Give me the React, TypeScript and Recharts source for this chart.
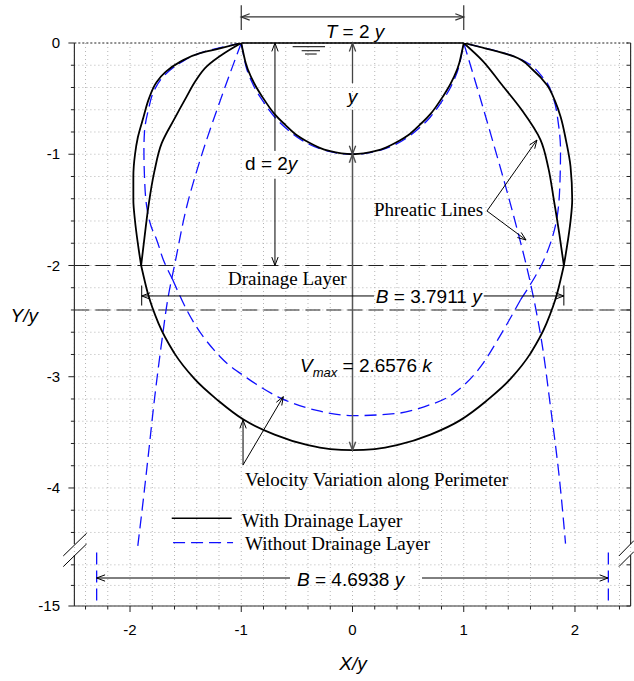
import React from "react";
import {
  CartesianGrid,
  ComposedChart,
  Line,
  ReferenceDot,
  ReferenceLine,
  XAxis,
  YAxis,
} from "recharts";

const W = 634;
const H = 681;

// ---- axes (X/y and Y/y) ----
const X_TICKS = [
  -2.4, -2.2, -2, -1.8, -1.6, -1.4, -1.2, -1, -0.8, -0.6, -0.4, -0.2, 0, 0.2,
  0.4, 0.6, 0.8, 1, 1.2, 1.4, 1.6, 1.8, 2, 2.2, 2.4,
];
const X_MAJOR = [-2, -1, 0, 1, 2];
const Y_TICKS_UPPER = [
  0, -0.2, -0.4, -0.6, -0.8, -1, -1.2, -1.4, -1.6, -1.8, -2, -2.2, -2.4, -2.6,
  -2.8, -3, -3.2, -3.4, -3.6, -3.8, -4, -4.2, -4.4,
];
const Y_MAJOR = [0, -1, -2, -3, -4];
const Y_TICKS_LOWER = [-13, -14, -15]; // below the axis break
const Y_LOWER_LABEL = -15;

// the Y axis is broken below about -4.5; the part around -15 is squeezed in
const Y_BOTTOM = -5.061;
const LOWER_STEP = 0.185;
const toDisp = (v: number) => (v > -5 ? v : Y_BOTTOM + (v + 15) * LOWER_STEP);

// ---- curves ----
// channel section
const chanWithX = [-1, -0.96, -0.9, -0.8, -0.7, -0.6, -0.5, -0.4, -0.3, -0.2, -0.1, 0, 0.1, 0.2, 0.3, 0.4, 0.5, 0.6, 0.7, 0.8, 0.9, 0.96, 1];
const chanWithY = [0, -0.18, -0.33, -0.5, -0.64, -0.74, -0.83, -0.89, -0.94, -0.973, -0.993, -1, -0.993, -0.973, -0.94, -0.89, -0.83, -0.74, -0.64, -0.5, -0.33, -0.18, 0];
const chanWithoutY = [0, -0.2, -0.36, -0.53, -0.665, -0.765, -0.845, -0.905, -0.948, -0.977, -0.994, -1, -0.994, -0.977, -0.948, -0.905, -0.845, -0.765, -0.665, -0.53, -0.36, -0.2, 0];

// with drainage layer: two branches on each side down to the layer, then one loop below
const outerWithLX = [-1, -1.2, -1.37, -1.55, -1.68, -1.76, -1.83, -1.88, -1.93, -1.955, -1.97, -1.97, -1.955, -1.93, -1.9];
const outerWithLY = [0, -0.05, -0.09, -0.17, -0.26, -0.35, -0.5, -0.67, -0.85, -1, -1.2, -1.41, -1.6, -1.8, -2];
const outerWithRX = [1, 1.2, 1.45, 1.62, 1.75, 1.82, 1.87, 1.92, 1.96, 1.975, 1.96, 1.946, 1.9];
const outerWithRY = [0, -0.05, -0.12, -0.24, -0.38, -0.52, -0.66, -0.88, -1.11, -1.41, -1.6, -1.71, -2];
const innerWithLX = [-1, -1.15, -1.31, -1.41, -1.49, -1.6, -1.715, -1.78, -1.835, -1.87, -1.9];
const innerWithLY = [0, -0.09, -0.21, -0.34, -0.48, -0.68, -0.9, -1.15, -1.47, -1.75, -2];
const innerWithRX = [1, 1.17, 1.33, 1.52, 1.69, 1.76, 1.81, 1.86, 1.9];
const innerWithRY = [0, -0.16, -0.36, -0.6, -0.87, -1.12, -1.41, -1.72, -2];
const lowerWithX = [-1.9, -1.84, -1.74, -1.6, -1.42, -1.2, -0.98, -0.7, -0.4, -0.2, 0, 0.2, 0.4, 0.7, 0.97, 1.2, 1.42, 1.6, 1.74, 1.84, 1.9];
const lowerWithY = [-2, -2.25, -2.53, -2.79, -3.02, -3.22, -3.385, -3.52, -3.615, -3.65, -3.66, -3.65, -3.615, -3.52, -3.39, -3.22, -3.02, -2.79, -2.53, -2.25, -2];

// without drainage layer: outer loop in three pieces (left side, bottom, right side)
const loopWithoutLX = [-1, -1.37, -1.55, -1.7, -1.78, -1.835, -1.87, -1.875, -1.87, -1.85, -1.81, -1.76, -1.7, -1.62];
const loopWithoutLY = [0, -0.09, -0.18, -0.3, -0.42, -0.6, -0.8, -0.96, -1.2, -1.47, -1.65, -1.77, -1.95, -2.12];
const loopWithoutBX = [-1.62, -1.49, -1.19, -0.95, -0.65, -0.29, 0, 0.4, 0.643, 0.91, 1.152, 1.34, 1.51];
const loopWithoutBY = [-2.12, -2.4, -2.82, -3.01, -3.19, -3.31, -3.35, -3.33, -3.27, -3.15, -2.91, -2.61, -2.31];
const loopWithoutRX = [1.51, 1.72, 1.84, 1.865, 1.87, 1.85, 1.81, 1.72, 1.45, 1];
const loopWithoutRY = [-2.31, -1.95, -1.56, -1.25, -0.96, -0.72, -0.51, -0.32, -0.12, 0];
const steepWithoutLX = [-1, -1.1, -1.19, -1.36, -1.49, -1.59, -1.66, -1.71, -1.78, -1.835, -1.88, -1.93];
const steepWithoutLY = [0, -0.27, -0.52, -1.02, -1.47, -1.95, -2.3, -2.65, -3.2, -3.7, -4.1, -4.52];
const steepWithoutRX = [1, 1.12, 1.24, 1.45, 1.6, 1.69, 1.78, 1.855, 1.915];
const steepWithoutRY = [0, -0.4, -0.81, -1.56, -2.16, -2.62, -3.27, -3.87, -4.5];
const farEdgeY = [-12.4, -15]; // B = 4.6938 y edges, below the break
const farEdgeLX = [-2.3, -2.3];
const farEdgeRX = [2.3, 2.3];

const zip = (xs: number[], ys: number[]) =>
  xs.map((x, i) => ({ x, y: toDisp(ys[i]) }));

const SANS = "'Liberation Sans', Arial, sans-serif";
const SERIF = "'Liberation Serif', 'Times New Roman', serif";
const BLUE = "#1010ff";
const BLUE_DASH = "12 6";

type Head = "start" | "end" | "both" | "none";

function arrowShape(head: Head, color: string, width: number, dash?: string) {
  return (p: any) => {
    const { x1, y1, x2, y2 } = p;
    const tip = (tx: number, ty: number, fx: number, fy: number) => {
      const a = Math.atan2(ty - fy, tx - fx);
      const L = 9;
      const s = 0.36;
      const pts = [
        [tx - L * Math.cos(a - s), ty - L * Math.sin(a - s)],
        [tx, ty],
        [tx - L * Math.cos(a + s), ty - L * Math.sin(a + s)],
      ]
        .map((q) => q.join(","))
        .join(" ");
      return <polyline points={pts} fill="none" stroke={color} strokeWidth={width} />;
    };
    return (
      <g>
        <line x1={x1} y1={y1} x2={x2} y2={y2} stroke={color} strokeWidth={width} strokeDasharray={dash} />
        {(head === "start" || head === "both") && tip(x1, y1, x2, y2)}
        {(head === "end" || head === "both") && tip(x2, y2, x1, y1)}
      </g>
    );
  };
}

const seg = (
  key: string,
  x1: number,
  y1: number,
  x2: number,
  y2: number,
  head: Head = "none",
  color = "#000",
  width = 1,
  dash?: string,
) => (
  <ReferenceLine
    key={key}
    segment={[
      { x: x1, y: y1 },
      { x: x2, y: y2 },
    ]}
    ifOverflow="visible"
    shape={arrowShape(head, color, width, dash)}
  />
);

const label = (
  key: string,
  x: number,
  y: number,
  anchor: "start" | "middle" | "end",
  family: string,
  size: number,
  children: React.ReactNode,
) => (
  <ReferenceDot
    key={key}
    x={x}
    y={y}
    r={0}
    ifOverflow="visible"
    shape={(p: any) => (
      <text x={p.cx} y={p.cy} textAnchor={anchor} fontFamily={family} fontSize={size} fill="#000">
        {children}
      </text>
    )}
  />
);

const it = (s: string) => <tspan fontStyle="italic">{s}</tspan>;

const XTick = (p: any) => {
  const v = p.payload.value;
  const major = X_MAJOR.includes(v);
  return (
    <g>
      <line x1={p.x} y1={p.y} x2={p.x} y2={p.y + (major ? 6 : 3.5)} stroke="#222" />
      {major && (
        <text x={p.x} y={p.y + 29} textAnchor="middle" fontFamily={SANS} fontSize={15} fill="#000">
          {String(v)}
        </text>
      )}
    </g>
  );
};

const yLabel = (v: number) => {
  if (v === toDisp(Y_LOWER_LABEL)) return String(Y_LOWER_LABEL);
  if (Y_MAJOR.includes(v)) return String(v);
  return null;
};

const YTick = (p: any) => {
  const v = p.payload.value;
  const text = yLabel(v);
  return (
    <g>
      <line x1={p.x - (text ? 6 : 3.5)} y1={p.y} x2={p.x} y2={p.y} stroke="#222" />
      {text && (
        <text x={p.x - 14.4} y={p.y} dy="0.35em" textAnchor="end" fontFamily={SANS} fontSize={15} fill="#000">
          {text}
        </text>
      )}
    </g>
  );
};

const RTick = (p: any) => (
  <line x1={p.x - 4} y1={p.y} x2={p.x} y2={p.y} stroke="#222" />
);

const Y_TICKS = [...Y_TICKS_UPPER, ...Y_TICKS_LOWER.map(toDisp)];

const blueProps = {
  dataKey: "y",
  stroke: BLUE,
  strokeWidth: 1.3,
  strokeDasharray: BLUE_DASH,
  dot: false,
  isAnimationActive: false,
} as const;
const blackProps = {
  dataKey: "y",
  stroke: "#000",
  strokeWidth: 1.8,
  dot: false,
  isAnimationActive: false,
} as const;

export default function App() {
  const bLow = toDisp(-13.64);
  return (
    <div style={{ position: "absolute", left: 0, top: 0, width: W, height: H, background: "#fff" }}>
      <ComposedChart width={W} height={H} margin={{ top: 43, right: 0, bottom: 0, left: 0 }}>
        <CartesianGrid stroke="#b5b5b5" strokeDasharray="1 3" />
        <XAxis
          dataKey="x"
          type="number"
          domain={[-2.5, 2.5]}
          ticks={X_TICKS}
          interval={0}
          allowDataOverflow
          axisLine={false}
          tickLine={false}
          tickSize={0}
          tickMargin={0}
          tick={XTick}
          height={75}
        />
        <YAxis
          type="number"
          domain={[Y_BOTTOM, 0]}
          ticks={Y_TICKS}
          interval={0}
          allowDataOverflow
          axisLine={false}
          tickLine={false}
          tickSize={0}
          tickMargin={0}
          tick={YTick}
          width={74.4}
        />
        <YAxis
          yAxisId="r"
          orientation="right"
          type="number"
          domain={[Y_BOTTOM, 0]}
          ticks={Y_TICKS}
          interval={0}
          allowDataOverflow
          axisLine={false}
          tickLine={false}
          tickSize={0}
          tickMargin={0}
          tick={RTick}
          width={3.4}
        />

        {/* surface and drainage layer boundaries */}
        <ReferenceLine y={0} stroke="#333" strokeDasharray="2 2" ifOverflow="visible" />
        <ReferenceLine y={-2} stroke="#222" strokeWidth={1.2} strokeDasharray="15 6" />
        <ReferenceLine y={-2.4} stroke="#222" strokeWidth={1.2} strokeDasharray="15 6" />
        {seg("surf", -1, 0, 1, 0, "none", "#000", 1.6)}

        {/* frame with the break */}
        {seg("axL1", -2.5, 0, -2.5, -4.505, "none", "#333", 1.2)}
        {seg("axL2", -2.5, -4.605, -2.5, Y_BOTTOM, "none", "#333", 1.2)}
        {seg("axR1", 2.5, 0, 2.5, -4.505, "none", "#333", 1.2)}
        {seg("axR2", 2.5, -4.605, 2.5, Y_BOTTOM, "none", "#333", 1.2)}
        {seg("axB", -2.5, Y_BOTTOM, 2.5, Y_BOTTOM, "none", "#333", 1.2)}
        {seg("brL1", -2.6, -4.611, -2.39, -4.407, "none", "#000", 1)}
        {seg("brL2", -2.6, -4.707, -2.39, -4.503, "none", "#000", 1)}
        {seg("brR1", 2.395, -4.611, 2.53, -4.473, "none", "#000", 1)}
        {seg("brR2", 2.395, -4.707, 2.53, -4.572, "none", "#000", 1)}

        {/* series: without drainage layer (blue dashed) */}
        <Line data={zip(chanWithX, chanWithoutY)} type="monotoneX" {...blueProps} />
        <Line data={zip(loopWithoutLX, loopWithoutLY)} type="monotoneY" {...blueProps} />
        <Line data={zip(loopWithoutBX, loopWithoutBY)} type="monotoneX" {...blueProps} />
        <Line data={zip(loopWithoutRX, loopWithoutRY)} type="monotoneY" {...blueProps} />
        <Line data={zip(steepWithoutLX, steepWithoutLY)} type="monotoneY" {...blueProps} />
        <Line data={zip(steepWithoutRX, steepWithoutRY)} type="monotoneY" {...blueProps} />
        <Line data={zip(farEdgeLX, farEdgeY)} type="linear" {...blueProps} />
        <Line data={zip(farEdgeRX, farEdgeY)} type="linear" {...blueProps} />
        {/* series: with drainage layer (black) */}
        <Line data={zip(chanWithX, chanWithY)} type="monotoneX" {...blackProps} />
        <Line data={zip(outerWithLX, outerWithLY)} type="monotoneY" {...blackProps} />
        <Line data={zip(outerWithRX, outerWithRY)} type="monotoneY" {...blackProps} />
        <Line data={zip(innerWithLX, innerWithLY)} type="monotoneY" {...blackProps} />
        <Line data={zip(innerWithRX, innerWithRY)} type="monotoneY" {...blackProps} />
        <Line data={zip(lowerWithX, lowerWithY)} type="monotoneX" {...blackProps} />

        {/* dimension arrows */}
        {seg("tArr", -1, 0.234, 1, 0.234, "both", "#333", 1.2)}
        {seg("tBarL", -1, 0.34, -1, 0.117, "none", "#333", 1.2)}
        {seg("tBarR", 1, 0.34, 1, 0.117, "none", "#333", 1.2)}
        {seg("w1", -0.538, -0.033, -0.247, -0.033, "none", "#333", 1.2)}
        {seg("w2", -0.457, -0.069, -0.292, -0.069, "none", "#333", 1.2)}
        {seg("w3", -0.427, -0.099, -0.322, -0.099, "none", "#333", 1.2)}
        {seg("yA1", 0, 0, 0, -0.36, "start", "#444", 1.3)}
        {seg("yA2", 0, -0.6, 0, -1, "end", "#444", 1.3)}
        {seg("dA1", -0.697, 0, -0.697, -0.97, "start", "#000", 1)}
        {seg("dA2", -0.697, -1.22, -0.697, -2, "end", "#000", 1)}
        {seg("vA", 0, -1, 0, -3.66, "both", "#555", 1.5)}
        {seg("bA1", -1.895, -2.274, 0.193, -2.274, "start", "#000", 1)}
        {seg("bA2", 1.18, -2.274, 1.9, -2.274, "end", "#000", 1)}
        {seg("bBarL", -1.895, -2.18, -1.895, -2.36, "none", "#000", 1)}
        {seg("bBarR", 1.9, -2.18, 1.9, -2.36, "none", "#000", 1)}
        {seg("pA1", 1.209, -1.51, 1.658, -0.872, "end", "#000", 1)}
        {seg("pA2", 1.209, -1.51, 1.56, -1.771, "end", "#000", 1)}
        {seg("vv1", -0.984, -3.793, -0.984, -3.389, "end", "#000", 1)}
        {seg("vv2", -0.984, -3.793, -0.622, -3.179, "end", "#000", 1)}
        {seg("bL1", -2.3, bLow, -0.562, bLow, "start", "#000", 1)}
        {seg("bL2", 0.625, bLow, 2.297, bLow, "end", "#000", 1)}

        {/* legend */}
        {seg("lgW", -1.625, -4.272, -1.086, -4.272, "none", "#000", 1.5)}
        {seg("lgWo", -1.613, -4.492, -1.074, -4.492, "none", BLUE, 1.3, BLUE_DASH)}

        {/* texts */}
        {label("tT", 0.022, 0.042, "middle", SANS, 19, [it("T"), " = 2 ", it("y")])}
        {label("tY", 0, -0.539, "middle", SANS, 19, it("y"))}
        {label("tD", -0.966, -1.142, "start", SANS, 19, ["d = 2", it("y")])}
        {label("tV", -0.472, -2.957, "start", SANS, 19, [
          it("V"),
          <tspan key="m" fontStyle="italic" fontSize={13} dy={5}>max</tspan>,
          <tspan key="e" dy={-5}>{" = 2.6576 "}</tspan>,
          it("k"),
        ])}
        {label("tDL", -1.119, -2.175, "start", SERIF, 19, "Drainage Layer")}
        {label("tB", 0.21, -2.337, "start", SANS, 19, [it("B"), " = 3.7911 ", it("y")])}
        {label("tPL", 0.193, -1.555, "start", SERIF, 19, "Phreatic Lines")}
        {label("tVV", -0.966, -3.982, "start", SERIF, 19, "Velocity Variation along Perimeter")}
        {label("tLW", -0.996, -4.35, "start", SERIF, 19, "With Drainage Layer")}
        {label("tLWo", -0.966, -4.557, "start", SERIF, 19, "Without Drainage Layer")}
        {label("tB2", -0.499, toDisp(-14.03), "start", SANS, 19, [it("B"), " = 4.6938 ", it("y")])}
        {label("tXt", 0.005, -5.636, "middle", SANS, 19, it("X/y"))}
        {label("tYt", -3.074, -2.508, "start", SANS, 19, it("Y/y"))}
      </ComposedChart>
    </div>
  );
}
